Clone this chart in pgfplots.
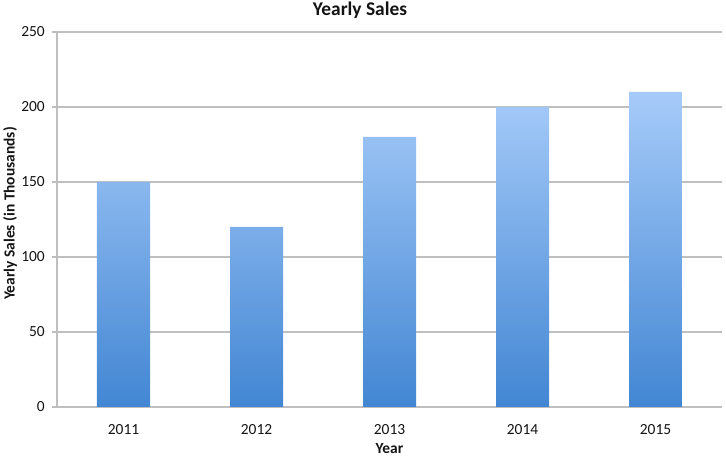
\documentclass[border=0pt]{standalone}
\usepackage{pgfplots}
\pgfplotsset{compat=1.18}
\usepackage{fontspec}
\setmainfont{Carlito}
\definecolor{bartop}{RGB}{166,203,249}
\definecolor{barbot}{RGB}{66,134,211}
\definecolor{gridc}{RGB}{191,191,191}
\definecolor{txt}{RGB}{20,20,20}
\begin{document}
\begin{tikzpicture}
\path[use as bounding box] (0,0) rectangle (726bp,456bp);
\begin{axis}[
  at={(57bp,49bp)}, anchor=south west,
  scale only axis, width=665bp, height=375bp,
  ybar, bar width=53bp,
  xmin=-0.5, xmax=4.5, ymin=0, ymax=250,
  ytick={0,50,...,250},
  xtick={0,...,4}, xticklabels={2011,2012,2013,2014,2015},
  axis x line*=bottom, axis y line*=left,
  ymajorgrids, grid style={gridc, line width=1.2bp},
  axis line style={gridc, line width=1.2bp},
  x tick style={draw=none},
  y tick style={gridc, line width=1.2bp},
  tick align=outside, major tick length=5bp,
  /pgf/number format/assume math mode=true,
  tick label style={font=\fontsize{15.5}{18}\selectfont, text=txt},
  yticklabel style={anchor=east, inner sep=0pt, xshift=-7bp},
  xticklabel style={anchor=center, inner sep=0pt, yshift=-18bp},
  title={Yearly Sales},
  title style={at={(axis description cs:0.4556,1.0427)}, anchor=center, font=\bfseries\fontsize{19.5}{22}\selectfont, text=txt},
  xlabel={Year},
  xlabel style={at={(axis description cs:0.5,-0.11)}, anchor=center, font=\bfseries\fontsize{15.5}{18}\selectfont, text=txt},
  ylabel={Yearly Sales (in Thousands)},
  ylabel style={at={(axis description cs:-0.0707,0.516)}, anchor=center, font=\bfseries\fontsize{15.5}{18}\selectfont, text=txt},
]
\addplot[draw=none, top color=bartop, bottom color=barbot] coordinates {(0,150) (1,120) (2,180) (3,200) (4,210)};
\end{axis}
\end{tikzpicture}
\end{document}
